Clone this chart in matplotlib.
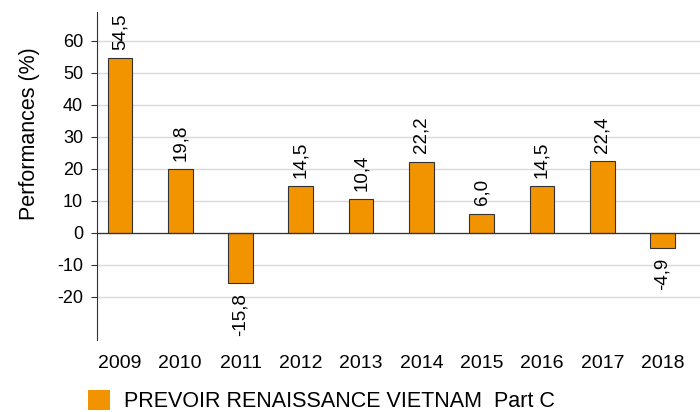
import matplotlib
matplotlib.use("Agg")
import matplotlib.pyplot as plt
from matplotlib.patches import Patch

plt.rcParams["font.family"] = ["Liberation Sans", "DejaVu Sans"]

years = ["2009", "2010", "2011", "2012", "2013", "2014", "2015", "2016", "2017", "2018"]
perf = [54.5, 19.8, -15.8, 14.5, 10.4, 22.2, 6.0, 14.5, 22.4, -4.9]
yticks = [-20, -10, 0, 10, 20, 30, 40, 50, 60]
series_name = "PREVOIR RENAISSANCE VIETNAM  Part C"
bar_color = "#F29400"

fig = plt.figure(figsize=(7, 4.12), dpi=100)
ax = fig.add_axes([0.1386, 0.175, 0.8614, 0.796])

x = range(len(years))
ax.bar(x, perf, width=0.41, color=bar_color, edgecolor="#333333", linewidth=0.8, zorder=3)

for xi, v in zip(x, perf):
    txt = f"{v:.1f}".replace(".", ",")
    if v >= 0:
        ax.annotate(txt, (xi, v), xytext=(0, 6), textcoords="offset points",
                    rotation=90, ha="center", va="bottom", fontsize=13.5)
    else:
        ax.annotate(txt, (xi, v), xytext=(0, -7), textcoords="offset points",
                    rotation=90, ha="center", va="top", fontsize=13.5)

ax.set_xlim(-0.38, 9.62)
ax.set_ylim(-33.5, 69)
ax.set_yticks(yticks)
ax.set_yticklabels([str(t) for t in yticks], fontsize=13)
ax.set_xticks(list(x))
ax.set_xticklabels(years, fontsize=14)
ax.tick_params(axis="x", length=0, pad=11)
ax.tick_params(axis="y", length=4, width=0.8, color="#333333", pad=6)
ax.grid(axis="y", color="#d9d9d9", linewidth=1, zorder=0)
ax.axhline(0, color="#333333", linewidth=0.9, zorder=4)
for s in ["top", "right", "bottom"]:
    ax.spines[s].set_visible(False)
ax.spines["left"].set_color("#333333")
ax.set_ylabel("Performances (%)", fontsize=15.5)
ax.yaxis.set_label_coords(-0.094, 0.628)

fig.legend(handles=[Patch(facecolor=bar_color, edgecolor="none")], labels=[series_name],
           loc="center left", bbox_to_anchor=(0.126, 0.026), frameon=False,
           borderpad=0, borderaxespad=0,
           fontsize=15.5, handlelength=1.0, handleheight=1.0, handletextpad=0.65)

fig.savefig("out.png", dpi=100)
